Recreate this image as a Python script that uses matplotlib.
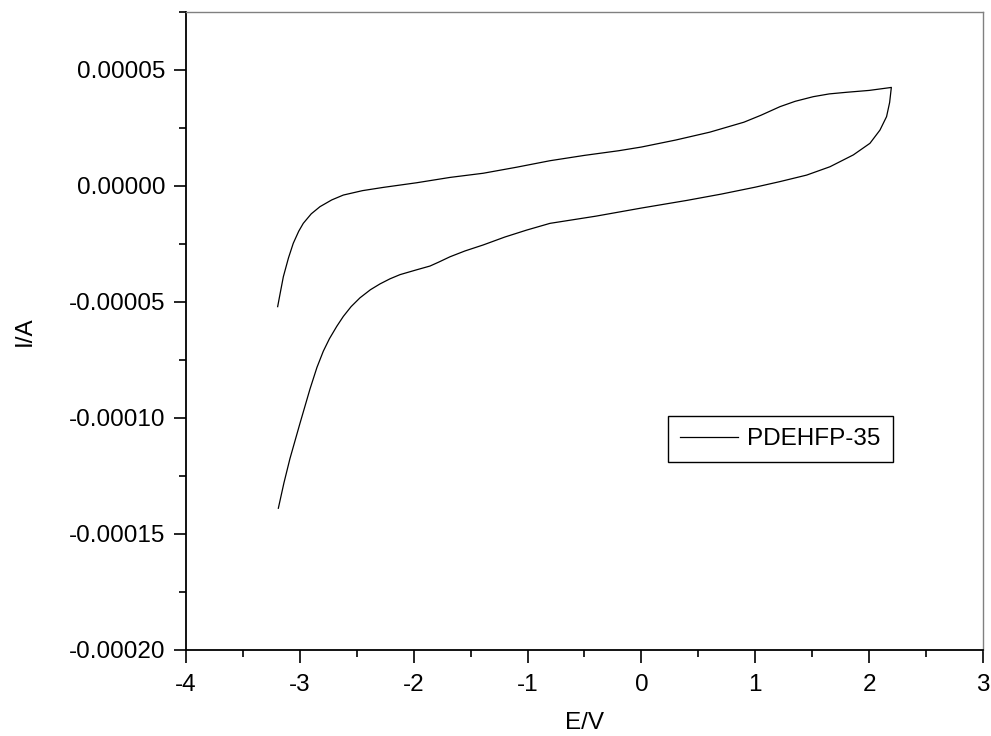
import matplotlib
matplotlib.use("Agg")
import matplotlib.pyplot as plt
from matplotlib.ticker import MultipleLocator, FuncFormatter

# Cyclic voltammogram of PDEHFP-35: forward (upper) sweep then reverse (lower) sweep
potential_v = [
    -3.195, -3.170, -3.145, -3.100, -3.058, -3.010, -2.970, -2.900, -2.823,
    -2.720, -2.618, -2.450, -2.267, -1.974, -1.681, -1.389, -1.096, -0.803,
    -0.500, -0.200, 0.000, 0.300, 0.600, 0.900, 1.050, 1.217, 1.350, 1.509,
    1.650, 1.803, 2.000, 2.183, 2.195,
    2.180, 2.153, 2.095, 2.007, 1.861, 1.656, 1.451, 1.217, 1.000, 0.700,
    0.400, 0.000, -0.400, -0.803, -1.008, -1.200, -1.389, -1.550, -1.681,
    -1.780, -1.857, -1.980, -2.120, -2.208, -2.296, -2.380, -2.472, -2.550,
    -2.618, -2.676, -2.740, -2.794, -2.850, -2.911, -2.999, -3.087, -3.140,
    -3.189,
]
current_a = [
    -5.20e-5, -4.55e-5, -3.91e-5, -3.10e-5, -2.47e-5, -1.95e-5, -1.61e-5,
    -1.20e-5, -0.89e-5, -0.60e-5, -0.39e-5, -0.20e-5, -0.06e-5, 0.14e-5,
    0.37e-5, 0.55e-5, 0.81e-5, 1.09e-5, 1.32e-5, 1.52e-5, 1.68e-5, 1.98e-5,
    2.32e-5, 2.75e-5, 3.05e-5, 3.42e-5, 3.65e-5, 3.85e-5, 3.97e-5, 4.04e-5,
    4.12e-5, 4.24e-5, 4.25e-5,
    3.60e-5, 2.99e-5, 2.41e-5, 1.84e-5, 1.34e-5, 0.83e-5, 0.47e-5, 0.19e-5,
    -0.05e-5, -0.35e-5, -0.62e-5, -0.95e-5, -1.30e-5, -1.61e-5, -1.90e-5,
    -2.20e-5, -2.54e-5, -2.80e-5, -3.05e-5, -3.28e-5, -3.45e-5, -3.62e-5,
    -3.82e-5, -4.00e-5, -4.22e-5, -4.47e-5, -4.82e-5, -5.20e-5, -5.62e-5,
    -6.05e-5, -6.58e-5, -7.12e-5, -7.82e-5, -8.75e-5, -10.23e-5, -11.75e-5,
    -12.80e-5, -13.89e-5,
]

plt.rcParams["font.family"] = ["Liberation Sans", "DejaVu Sans"]

fig = plt.figure(figsize=(9.91, 7.36), dpi=100)
ax = fig.add_axes([186 / 991, 1 - 650 / 736, (983 - 186) / 991, (650 - 12) / 736])

ax.plot(potential_v, current_a, color="black", lw=0.9, label="PDEHFP-35")

ax.set_xlim(-4, 3)
ax.set_ylim(-0.0002, 0.000075)

ax.xaxis.set_major_locator(MultipleLocator(1))
ax.xaxis.set_minor_locator(MultipleLocator(0.5))
ax.yaxis.set_major_locator(MultipleLocator(0.00005))
ax.yaxis.set_minor_locator(MultipleLocator(0.000025))
ax.yaxis.set_major_formatter(FuncFormatter(lambda v, p: f"{v:.5f}"))
ax.xaxis.set_major_formatter(FuncFormatter(lambda v, p: f"{v:.0f}"))

for side in ("left", "bottom"):
    ax.spines[side].set_linewidth(1.3)
    ax.spines[side].set_color("black")
for side in ("top", "right"):
    ax.spines[side].set_linewidth(1.0)
    ax.spines[side].set_color("#808080")

ax.tick_params(which="major", direction="out", length=9, width=1.2,
               labelsize=17.5, top=False, right=False)
ax.tick_params(which="minor", direction="out", length=5, width=1.2,
               top=False, right=False)
ax.tick_params(axis="y", which="major", pad=6)
ax.tick_params(axis="x", which="major", pad=8)

ax.set_xlabel("E/V", fontsize=17.5, labelpad=12)
ax.set_ylabel("I/A", fontsize=17.5, labelpad=24)

leg = ax.legend(loc="upper left", bbox_to_anchor=(668 / 991, 1 - 416 / 736),
                bbox_transform=fig.transFigure, borderaxespad=0,
                fontsize=17.5, frameon=True, fancybox=False,
                edgecolor="black", framealpha=1, handlelength=2.4,
                borderpad=0.5, handletextpad=0.35)
leg.get_frame().set_linewidth(1.0)

fig.savefig("out.png", dpi=100)
